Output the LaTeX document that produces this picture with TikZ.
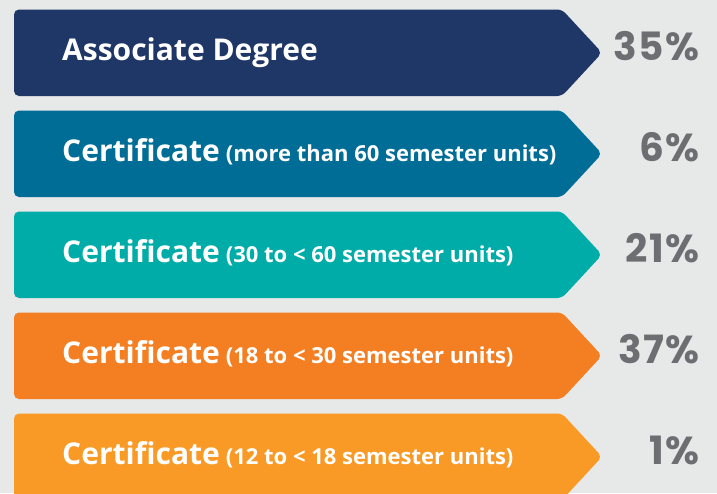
\documentclass[tikz,border=0pt]{standalone}
\usepackage{fontspec}
\setmainfont{Open Sans}
\newfontfamily\pctfont{Poppins}[LetterSpace=4]
\usetikzlibrary{calc}
\definecolor{pagegray}{HTML}{E7E8E8}
\definecolor{pctgray}{HTML}{6D6E71}
\definecolor{assocnavy}{HTML}{1F3766}
\definecolor{certblue}{HTML}{006D96}
\definecolor{certteal}{HTML}{00ACA8}
\definecolor{certorange}{HTML}{F47E22}
\definecolor{certamber}{HTML}{F99A26}
\tikzset{
  barlabel/.style={anchor=base west, text=white, inner sep=0pt,
    font=\bfseries\fontsize{30}{30}\selectfont},
  pctlabel/.style={anchor=base east, text=pctgray, inner sep=0pt,
    font=\pctfont\bfseries\fontsize{39}{39}\selectfont}
}
\newcommand{\rangetext}[1]{{\fontsize{22}{22}\selectfont #1}}
\newcommand{\awardbar}[5]{
  % #1 name, #2 top edge, #3 colour, #4 text, #5 share
  \fill[#3, rounded corners=5pt] (14,#2) -- (562,#2) -- (602,#2+43.25)
    -- (562,#2+86.5) -- (14,#2+86.5) -- cycle;
  \node[barlabel] (#1) at (62,#2+50.5) {#4};
  \node[pctlabel] (#1-pct) at (700,#2+51) {#5};
}

\begin{document}
\begin{tikzpicture}[x=1pt,y=-1pt]
  \useasboundingbox (0,0) rectangle (717,493);
  \clip (0,0) rectangle (717,493);
  \fill[pagegray] (0,0) rectangle (717,493);

  \awardbar{assoc}{9.5}{assocnavy}{Associate Degree}{35\%}
  \awardbar{cert60}{110.5}{certblue}{Certificate\hspace{6pt}\rangetext{(more than 60 semester units)}}{6\%}
  \awardbar{cert30}{211.5}{certteal}{Certificate\hspace{6pt}\rangetext{(30 to < 60 semester units)}}{21\%}
  \awardbar{cert18}{312.5}{certorange}{Certificate\hspace{6pt}\rangetext{(18 to < 30 semester units)}}{37\%}
  \awardbar{cert12}{413.5}{certamber}{Certificate\hspace{6pt}\rangetext{(12 to < 18 semester units)}}{1\%}
\end{tikzpicture}
\end{document}
